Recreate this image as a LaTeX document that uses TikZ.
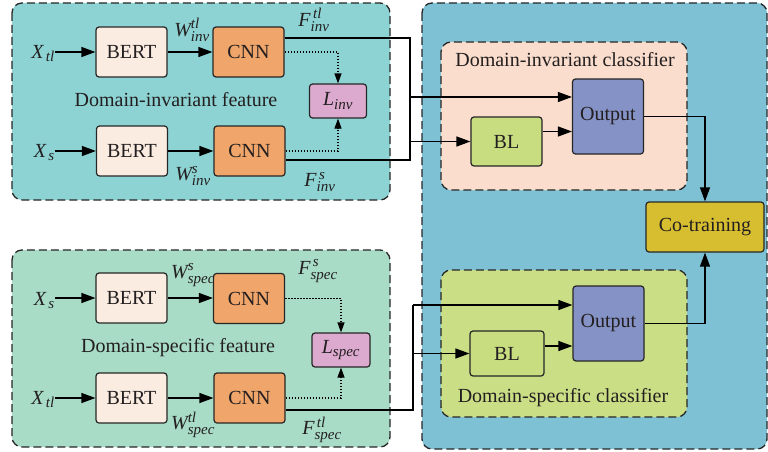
\documentclass[tikz,border=0pt]{standalone}
\usepackage{fontspec}
\setmainfont{Liberation Serif}
\newfontfamily\serifx{Liberation Serif}
\DeclareMathSizes{20}{20}{15}{12}
\usetikzlibrary{arrows.meta}
\definecolor{txt}{HTML}{231F20}
\definecolor{pinv}{HTML}{8DD3D3}
\definecolor{pspec}{HTML}{A8DCC6}
\definecolor{pright}{HTML}{7EC1D5}
\definecolor{cinv}{HTML}{FADDCC}
\definecolor{cspec}{HTML}{CADE85}
\definecolor{bertc}{HTML}{FBECE1}
\definecolor{cnnc}{HTML}{F0A66A}
\definecolor{lossc}{HTML}{DCAACE}
\definecolor{outc}{HTML}{8592C6}
\definecolor{blc}{HTML}{C8DD80}
\definecolor{coc}{HTML}{D7BE30}
\tikzset{
 base/.style={draw=black!85, line width=1.2pt, rounded corners=3pt, text=txt, font=\serifx\fontsize{20}{24}\selectfont, inner sep=0pt, align=center},
 bertbox/.style={base, fill=bertc, minimum width=71pt, minimum height=50pt},
 cnnbox/.style={base, fill=cnnc, minimum width=71pt, minimum height=50pt},
 lossbox/.style={base, fill=lossc, minimum width=57pt, minimum height=34pt},
 outbox/.style={base, fill=outc, minimum width=71pt, minimum height=75pt},
 blbox/.style={base, fill=blc, minimum width=72pt, minimum height=48pt},
 cobox/.style={base, fill=coc, minimum width=118pt, minimum height=50pt},
 panel/.style={draw=black!85, line width=1.3pt, dash pattern=on 8pt off 4pt, rounded corners=10pt},
 lbl/.style={text=txt, font=\serifx\fontsize{20}{24}\selectfont, inner sep=0pt},
 arr/.style={line width=1.2pt, draw=black, -{Triangle[length=14pt,width=10pt]}},
 ln/.style={line width=1.2pt, draw=black},
 dotarr/.style={line width=1.2pt, draw=black, dash pattern=on 1.5pt off 1.5pt, -{Triangle[length=10pt,width=7pt]}},
}
\begin{document}
\begin{tikzpicture}[x=1pt,y=-1pt]
\useasboundingbox (0,0) rectangle (768,452);
% panels
\path[panel, fill=pinv] (12,3) rectangle (390,200);
\path[panel, fill=pspec] (12,250) rectangle (390,447);
\path[panel, fill=pright] (422,3) rectangle (767,449);
\path[panel, fill=cinv] (441,42) rectangle (687,190);
\path[panel, fill=cspec] (441,270) rectangle (687,417);

% top panel
\node[bertbox] (b1) at (131.5,52) {BERT};
\node[cnnbox] (c1) at (248.5,52) {CNN};
\node[bertbox] (b2) at (132,151) {BERT};
\node[cnnbox] (c2) at (249.5,151) {CNN};
\node[lossbox] (lin) at (338,101) {$\mathit{L}_{\mathit{inv}}$};
\node[lbl, anchor=base east] (x1) at (55,58.5) {$\mathit{X}_{\,\mathit{tl}}$};
\node[lbl, anchor=base east] (x2) at (55,157.5) {$\mathit{X}_{\,\mathit{s}}$};
\node[lbl] (w1) at (192,30) {$\mathit{W}^{\mathit{tl}}_{\mathit{inv}}$};
\node[lbl] (w2) at (193,176) {$\mathit{W}^{\mathit{s}}_{\mathit{inv}}$};
\node[lbl] (f1) at (314,20) {$\mathit{F}^{\,\mathit{tl}}_{\mathit{inv}}$};
\node[lbl] (f2) at (320,182) {$\mathit{F}^{\,\mathit{s}}_{\mathit{inv}}$};
\node[lbl] (t1) at (176,100) {Domain-invariant feature};

\draw[arr] (x1.east |- b1.west) -- (b1.west);
\draw[arr] (b1) -- (c1);
\draw[arr] (x2.east |- b2.west) -- (b2.west);
\draw[arr] (b2) -- (c2);
\draw[dotarr] (c1.east) -| (lin.north);
\draw[dotarr] (c2.east) -| (lin.south);

% bottom panel
\node[bertbox] (b3) at (131.5,298) {BERT};
\node[cnnbox] (c3) at (249,298.5) {CNN};
\node[bertbox] (b4) at (131.5,398) {BERT};
\node[cnnbox] (c4) at (249.5,398) {CNN};
\node[lossbox, minimum width=58pt] (lsp) at (341,350) {$\mathit{L}_{\mathit{spec}}$};
\node[lbl, anchor=base east] (x3) at (55,305) {$\mathit{X}_{\,\mathit{s}}$};
\node[lbl, anchor=base east] (x4) at (55,404) {$\mathit{X}_{\,\mathit{tl}}$};
\node[lbl] (w3) at (193,275) {$\mathit{W}^{\mathit{s}}_{\mathit{spec}}$};
\node[lbl] (w4) at (193,425) {$\mathit{W}^{\mathit{tl}}_{\mathit{spec}}$};
\node[lbl] (f3) at (318,271) {$\mathit{F}^{\,\mathit{s}}_{\mathit{spec}}$};
\node[lbl] (f4) at (322,430) {$\mathit{F}^{\,\mathit{tl}}_{\mathit{spec}}$};
\node[lbl] (t2) at (178,348) {Domain-specific feature};

\draw[arr] (x3.east |- b3.west) -- (b3.west);
\draw[arr] (b3.east) -- (b3.east -| c3.west);
\draw[arr] (x4.east |- b4.west) -- (b4.west);
\draw[arr] (b4) -- (c4);
\draw[dotarr] (c3.east) -| (lsp.north);
\draw[dotarr] (c4.east) -| (lsp.south);

% right panel
\node[outbox] (o1) at (608,116.5) {Output};
\node[blbox, minimum width=71pt, minimum height=49pt] (bl1) at (506.5,141.5) {BL};
\node[outbox] (o2) at (608.5,323.5) {Output};
\node[blbox, minimum width=74pt, minimum height=45pt] (bl2) at (507,353.5) {BL};
\node[cobox] (co) at (705,227) {Co-training};
\node[lbl] (t3) at (565,60) {Domain-invariant classifier};
\node[lbl] (t4) at (563,398) {Domain-specific classifier};

% buses
\coordinate (bb1) at (410,160);
\coordinate (j1) at (410,97);
\coordinate (j2) at (410,141.5);
\draw[ln] ([yshift=14pt]c1.east) -| (bb1) -- ([yshift=-9pt]c2.east);
\draw[arr] (j1) -- (j1 -| o1.west);
\draw[arr] (j2) -- (j2 -| bl1.west);

\coordinate (bt2) at (413,305);
\coordinate (j4) at (413,353.5);
\draw[ln] ([yshift=-12pt]c4.east) -| (bt2);
\draw[arr] (bt2) -- (bt2 -| o2.west);
\draw[arr] (j4) -- (j4 -| bl2.west);

\draw[arr] ([yshift=10pt]bl1.east) -- ([yshift=10pt]bl1.east -| o1.west);
\draw[arr] ([yshift=7.5pt]bl2.east) -- ([yshift=7.5pt]bl2.east -| o2.west);
\draw[arr] (o1.east) -| (co.north);
\draw[arr] (o2.east) -| (co.south);
\end{tikzpicture}
\end{document}
